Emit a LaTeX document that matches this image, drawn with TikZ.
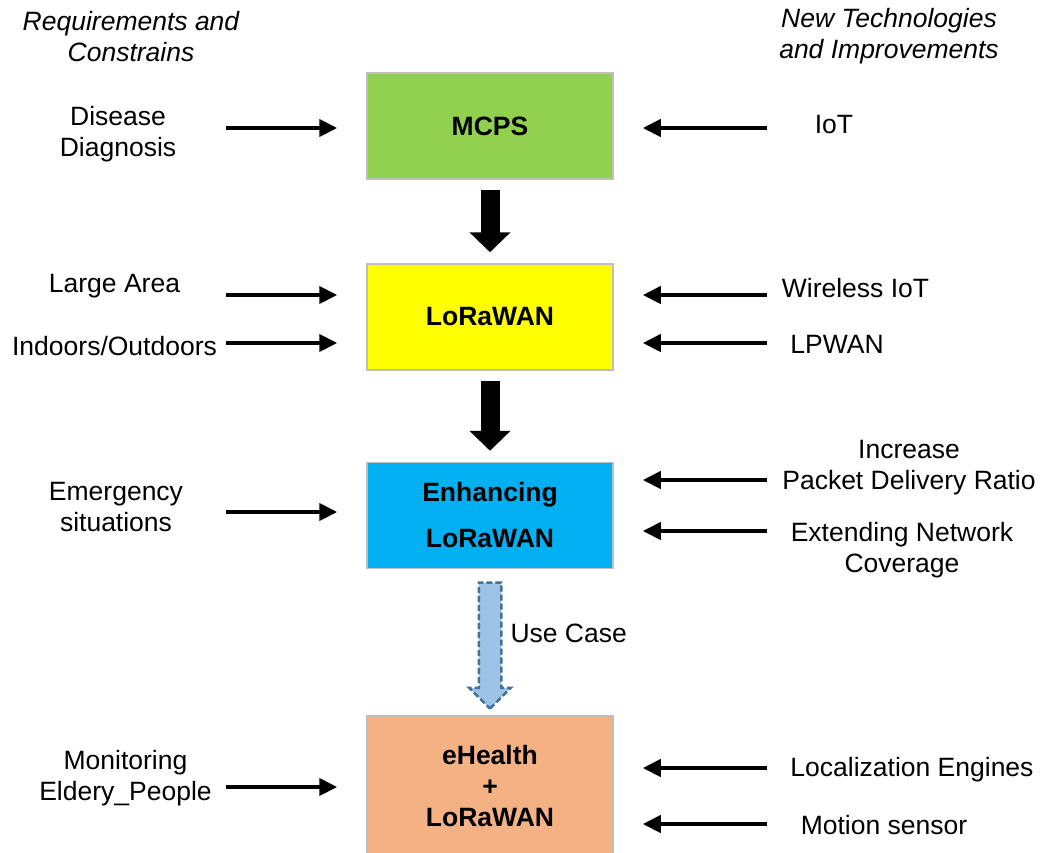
\documentclass[tikz,border=0pt]{standalone}
\usepackage{fontspec}
\setmainfont{Liberation Sans}
\usetikzlibrary{arrows.meta,shapes.arrows}

\definecolor{mcpsgreen}{HTML}{92D050}
\definecolor{lorayellow}{HTML}{FFFF00}
\definecolor{enhblue}{HTML}{00B0F0}
\definecolor{ehpeach}{HTML}{F4B183}
\definecolor{boxline}{HTML}{BFBFBF}
\definecolor{usefill}{HTML}{9DC3E6}
\definecolor{useline}{HTML}{41719C}

\begin{document}
\begin{tikzpicture}[x=1pt, y=-1pt,
	every node/.style={align=center, font=\fontsize{26.5}{31}\selectfont},
	box/.style={rectangle, draw=boxline, line width=1.5pt, minimum width=246pt, minimum height=106pt, font=\fontsize{26.5}{31}\selectfont\bfseries},
	side/.style={line width=4pt, -{Triangle[width=17pt,length=18pt]}, shorten >=29pt},
	block/.style={line width=19pt, -{Triangle[width=40pt,length=20pt]}, shorten <=10pt, shorten >=11pt},
	usecase/.style={single arrow, shape border rotate=270, draw=useline, fill=usefill, line width=2.5pt, dash pattern=on 6pt off 3pt, inner sep=10pt, minimum height=126pt, single arrow head extend=9.5pt}]
				\useasboundingbox (0,0) rectangle (1043,852);
				
				\node[box, fill=mcpsgreen] (mcps) at (490,126){MCPS};
				\node[box, fill=lorayellow] (lora) at (490,317){LoRaWAN};
				\node[box, fill=enhblue] (enh) at (490,515.5){Enhancing\\[15pt]LoRaWAN};
				\node[box, fill=ehpeach, minimum height=140pt] (eh) at (490,786){eHealth\\+\\LoRaWAN};
				
				\node[font=\fontsize{26.5}{31}\selectfont\itshape] (req) at (131,36.5){Requirements and\\Constrains};
				\node[font=\fontsize{26.5}{31}\selectfont\itshape] (new) at (889,36.5){New Technologies\\and Improvements};
				
				\node (dis) at (118,134.5){Disease\\Diagnosis};
				\node (large) at (114.5,286){Large Area};
				\node (indoor) at (114.5,346){Indoors/Outdoors};
				\node (emerg) at (116,507){Emergency\\situations};
				\node (mon) at (125.5,778){Monitoring\\Eldery\_People};
				
				\node (iot) at (834,125){IoT};
				\node (wiot) at (855.5,288){Wireless IoT};
				\node (lpwan) at (837,344){LPWAN};
				\node (pdr) at (909,468){Increase\\Packet Delivery Ratio};
				\node (cov) at (902,550){Extending Network\\Coverage};
				\node (loc) at (912,770){Localization Engines};
				\node (motion) at (884,825){Motion sensor};
				
				\coordinate (l1) at (226,128);
				\coordinate (l2) at (226,295);
				\coordinate (l3) at (226,343);
				\coordinate (l4) at (226,512);
				\coordinate (l5) at (226,787);
				\coordinate (r1) at (767,128);
				\coordinate (r2) at (767,295);
				\coordinate (r3) at (767,343);
				\coordinate (r4) at (767,480);
				\coordinate (r5) at (767,531);
				\coordinate (r6) at (767,768);
				\coordinate (r7) at (767,824);
				
				\path (l1) edge[side] (l1 -| mcps.west);
				\path (l2) edge[side] (l2 -| lora.west);
				\path (l3) edge[side] (l3 -| lora.west);
				\path (l4) edge[side] (l4 -| enh.west);
				\path (l5) edge[side] (l5 -| eh.west);
				\path (r1) edge[side] (r1 -| mcps.east);
				\path (r2) edge[side] (r2 -| lora.east);
				\path (r3) edge[side] (r3 -| lora.east);
				\path (r4) edge[side] (r4 -| enh.east);
				\path (r5) edge[side] (r5 -| enh.east);
				\path (r6) edge[side] (r6 -| eh.east);
				\path (r7) edge[side] (r7 -| eh.east);
				
				\path (mcps) edge[block] (lora);
				\path (lora) edge[block] (enh);
				
				\node[usecase] (usearrow) at (490,640){};
				\node[anchor=west] (uselabel) at (507,633){Use Case};
				\end{tikzpicture}
\end{document}
